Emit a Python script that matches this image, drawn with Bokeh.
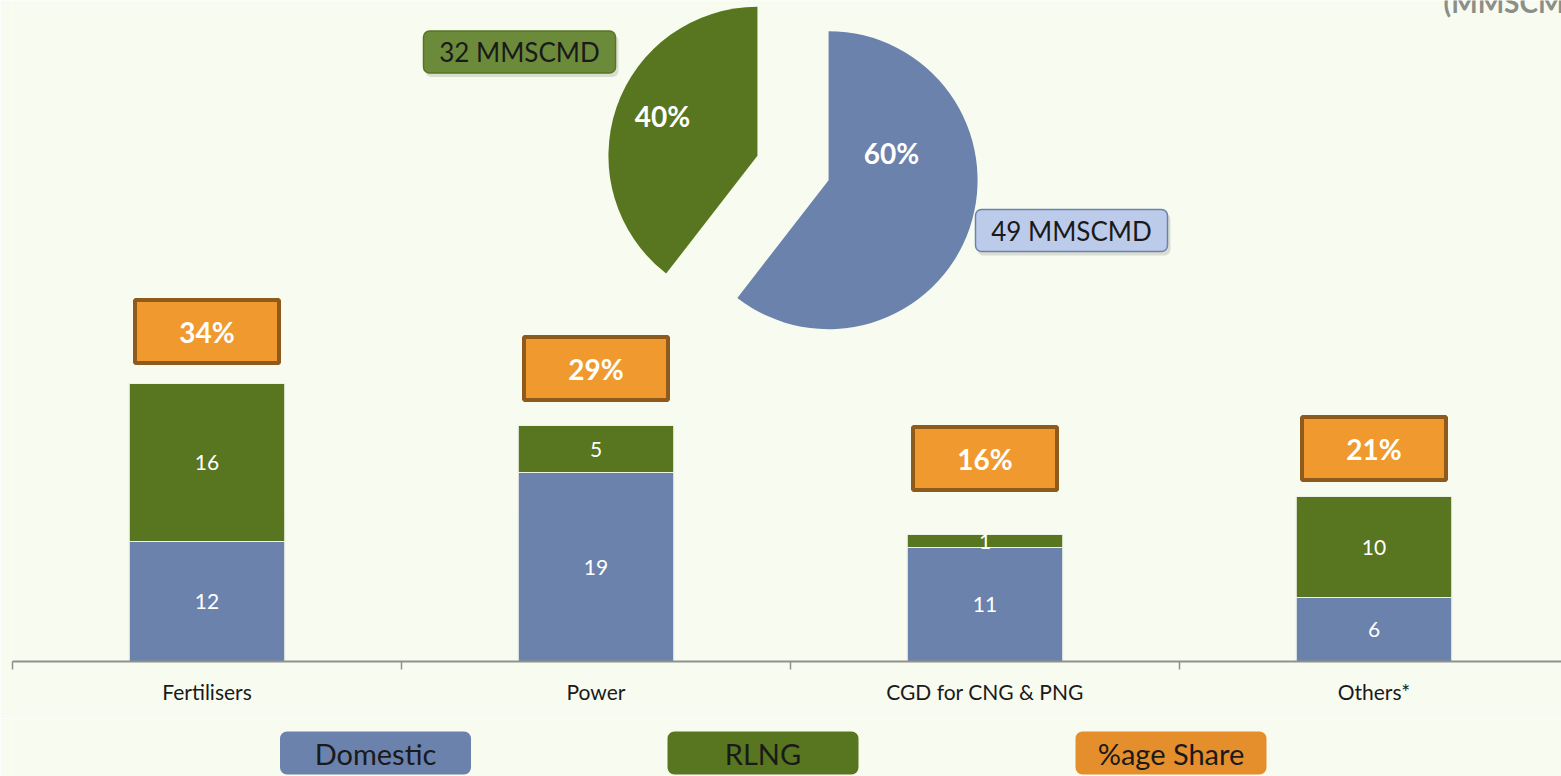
import math
from bokeh.plotting import figure
from bokeh.models import Range1d, LinearAxis, FixedTicker, ColumnDataSource
from bokeh.layouts import column
from bokeh.embed import file_html
from bokeh.resources import INLINE
from bokeh.core.properties import value

# ---------------- data ----------------
categories = ["Fertilisers", "Power", "CGD for CNG & PNG", "Others*"]
domestic = [12.0, 18.9, 11.4, 6.4]
rlng = [15.8, 4.7, 1.3, 10.1]
share_pct = [34, 29, 16, 21]
pie_names = ["Domestic", "RLNG"]
pie_values = [round(sum(domestic)), round(sum(rlng))]   # 49, 32
unit_label = "MMSCMD"
legend_labels = ["Domestic", "RLNG", "%age Share"]
title_text = "(MMSCMD)"

# ---------------- style / layout ----------------
BG = "#F8FCF0"
BLUE = "#6B82AD"
GREEN = "#58761F"
ORANGE = "#F0992F"
ORANGE_EDGE = "#8E5B1D"
LEG_ORANGE = "#E58E2C"
FONT = "Lato"
W = 1561
LEFT = 12
FRAME_H = 661
PX_X = 389.0   # px per category
PX_Y = 10.0    # px per unit

def dx(px):
    return (px - LEFT) / PX_X

def dy(py):
    return (FRAME_H - py) / PX_Y

p = figure(width=W, height=718, output_backend="svg", toolbar_location=None,
           x_range=Range1d(0, (W - LEFT) / PX_X), y_range=Range1d(0, FRAME_H / PX_Y),
           x_axis_location=None, y_axis_location=None,
           min_border_left=LEFT, min_border_right=0, min_border_top=0, min_border_bottom=57,
           background_fill_color=BG, border_fill_color=BG, outline_line_color=None)
p.grid.visible = False

xs = [i + 0.5 for i in range(len(categories))]
tot = [d + r for d, r in zip(domestic, rlng)]
src = ColumnDataSource(dict(
    x=xs, dom=domestic, tot=tot,
    dom_mid=[d / 2 for d in domestic],
    rl_mid=[d + r / 2 for d, r in zip(domestic, rlng)],
    dom_lab=["%.0f" % v for v in domestic],
    rl_lab=["%.0f" % v for v in rlng],
))

ax = LinearAxis(ticker=FixedTicker(ticks=xs, minor_ticks=list(range(len(categories) + 1))),
                major_label_overrides={x: c for x, c in zip(xs, categories)},
                axis_line_color="#8E918A", axis_line_width=2,
                major_tick_line_color=None, major_tick_out=0, major_tick_in=0,
                minor_tick_line_color="#8E918A", minor_tick_line_width=1.5,
                minor_tick_out=8, minor_tick_in=0,
                major_label_standoff=9,
                major_label_text_font=FONT, major_label_text_font_size="21px",
                major_label_text_color="#1A1A1A")
p.add_layout(ax, "below")

# stacked bars
p.vbar(x="x", width=0.4, bottom=0, top="dom", source=src,
       fill_color=BLUE, line_color="#EEF2E6", line_width=1.2)
p.vbar(x="x", width=0.4, bottom="dom", top="tot", source=src,
       fill_color=GREEN, line_color="#EEF2E6", line_width=1.2)
p.text(x="x", y="dom_mid", text="dom_lab", source=src, text_align="center",
       text_baseline="middle", text_color="white", text_font=value(FONT),
       text_font_size="21px")
p.text(x="x", y="rl_mid", text="rl_lab", source=src, text_align="center",
       text_baseline="middle", text_color="white", text_font=value(FONT),
       text_font_size="21px")

# %age share boxes
share_box_y_px = [331, 368, 458, 448]
ssrc = ColumnDataSource(dict(x=xs, y=[dy(v) for v in share_box_y_px],
                             lab=["%d%%" % v for v in share_pct]))
p.rect(x="x", y="y", width=144, height=63, width_units="screen", height_units="screen",
       source=ssrc, fill_color=ORANGE, line_color=ORANGE_EDGE, line_width=4)
p.text(x="x", y="y", text="lab", source=ssrc, text_align="center", text_baseline="middle",
       text_color="white", text_font=value(FONT), text_font_size="28px",
       text_font_style="bold")

# pie
PIE_C = (792.5, 167.5)
R = 149
EXPLODE = 37.6
total = sum(pie_values)
pie_cols = [BLUE, GREEN]
start = 90.0
label_off = [(98.5, -15.5), (-130.5, -52.5)]
callouts = [(1071, 230, "#BDCBEB", BLUE), (519, 51.5, "#6C8B3A", GREEN)]
for i, v in enumerate(pie_values):
    sweep = v / total * 360.0
    end = start - sweep
    mid = math.radians((start + end) / 2)
    ox, oy = EXPLODE * math.cos(mid), EXPLODE * math.sin(mid)
    cx = dx(PIE_C[0]) + ox / PX_X
    cy = dy(PIE_C[1]) + oy / PX_Y
    p.wedge(x=[cx], y=[cy], radius=R, radius_units="screen",
            start_angle=math.radians(start), end_angle=math.radians(end),
            direction="clock", fill_color=pie_cols[i], line_color=None)
    lx, ly = label_off[i]
    p.text(x=[dx(PIE_C[0] + lx)], y=[dy(PIE_C[1] + ly)],
           text=["%d%%" % round(v / total * 100)], text_align="center",
           text_baseline="middle", text_color="white", text_font=value(FONT),
           text_font_size="28px", text_font_style="bold")
    bx, by, bfill, bedge = callouts[i]
    # shadow
    p.quad(left=[dx(bx - 96 + 2)], right=[dx(bx + 96 + 3)],
           top=[dy(by - 21 + 4)], bottom=[dy(by + 21 + 4)],
           fill_color="black", fill_alpha=0.12, line_color=None, border_radius=6)
    p.quad(left=[dx(bx - 96)], right=[dx(bx + 96)], top=[dy(by - 21)], bottom=[dy(by + 21)],
           fill_color=bfill, line_color=bedge, line_width=1.5, border_radius=6)
    p.text(x=[dx(bx)], y=[dy(by)], text=["%d %s" % (v, unit_label)], text_align="center",
           text_baseline="middle", text_color="#1A1A1A", text_font=value(FONT),
           text_font_size="26px")
    start = end

# unit title at the top right (cut off by the page edge, as in the reference)
p.text(x=[dx(1443)], y=[dy(1)], text=[title_text], text_align="left",
       text_baseline="alphabetic", text_color="#8C8E88", text_font=value(FONT),
       text_font_size="28px", text_font_style="bold")

# ---------------- legend strip ----------------
lg = figure(width=W, height=58, output_backend="svg", toolbar_location=None,
            x_range=Range1d(LEFT, W), y_range=Range1d(58, 0),
            x_axis_location=None, y_axis_location=None,
            min_border=0, min_border_left=LEFT, min_border_right=0,
            background_fill_color=BG, border_fill_color=BG,
            outline_line_color=None)
lg.grid.visible = False
leg_cx = [375, 762.5, 1170.5]
leg_cols = [BLUE, GREEN, LEG_ORANGE]
lsrc = ColumnDataSource(dict(l=[c - 95.5 for c in leg_cx], r=[c + 95.5 for c in leg_cx],
                             t=[13] * 3, b=[56] * 3, x=leg_cx, y=[34.5] * 3,
                             c=leg_cols, lab=legend_labels))
lg.quad(left="l", right="r", top="t", bottom="b", fill_color="c", line_color=None,
        border_radius=7, source=lsrc)
lg.text(x="x", y="y", text="lab", source=lsrc, text_align="center", text_baseline="middle",
        text_color="#1A1A1A", text_font=value(FONT), text_font_size="29px")

layout = column(p, lg, spacing=0)
open("out.html", "w").write(file_html(layout, INLINE))
